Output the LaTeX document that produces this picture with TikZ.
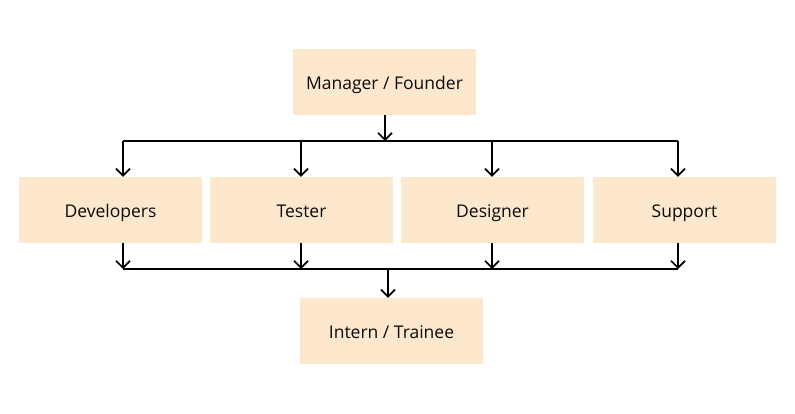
\documentclass[tikz,border=0pt]{standalone}
\usepackage{fontspec}
\setmainfont{Open Sans}
\usetikzlibrary{arrows.meta}
\definecolor{boxfill}{RGB}{253,232,206}
\definecolor{ink}{RGB}{10,10,10}
\tikzset{
  rolebox/.style={fill=boxfill, draw=none, minimum width=183pt, minimum height=66pt, inner sep=0pt, text height=18pt, text depth=3.5pt, font=\fontsize{17.5}{20}\selectfont, text=ink},
  conn/.style={draw=black, line width=1.7pt},
  arr/.style={conn, -{Straight Barb[length=7pt, width=14pt, line width=1.7pt]}}
}
\begin{document}
\begin{tikzpicture}[x=1pt,y=-1pt]
\useasboundingbox (0,0) rectangle (795,414);
\node[rolebox] (mgr) at (384.5,82) {Manager / Founder};
\node[rolebox] (dev) at (110.5,210) {Developers};
\node[rolebox] (tst) at (301.5,210) {Tester};
\node[rolebox] (dsg) at (492.5,210) {Designer};
\node[rolebox] (sup) at (684.5,210) {Support};
\node[rolebox] (int) at (391.5,331) {Intern / Trainee};
% top bus
\coordinate (tb) at (385,141);
\coordinate (tbl) at (123,141);
\coordinate (tbr) at (678,141);
\coordinate (tbt) at (301,141);
\coordinate (tbd) at (492,141);
\draw[arr] (mgr.south -| tb) -- (tb);
\draw[conn] (tbl) -- (tbr);
\draw[arr] (tbl) -- (tbl |- dev.north);
\draw[arr] (tbt) -- (tbt |- tst.north);
\draw[arr] (tbd) -- (tbd |- dsg.north);
\draw[arr] (tbr) -- (tbr |- sup.north);
% bottom bus
\coordinate (bb) at (388,269);
\coordinate (bbl) at (123,269);
\coordinate (bbr) at (678,269);
\coordinate (bbt) at (301,269);
\coordinate (bbd) at (492,269);
\draw[arr] (dev.south -| bbl) -- (bbl);
\draw[arr] (tst.south -| bbt) -- (bbt);
\draw[arr] (dsg.south -| bbd) -- (bbd);
\draw[arr] (sup.south -| bbr) -- (bbr);
\draw[conn] (bbl) -- (bbr);
\draw[arr] (bb) -- (bb |- int.north);
\end{tikzpicture}
\end{document}
